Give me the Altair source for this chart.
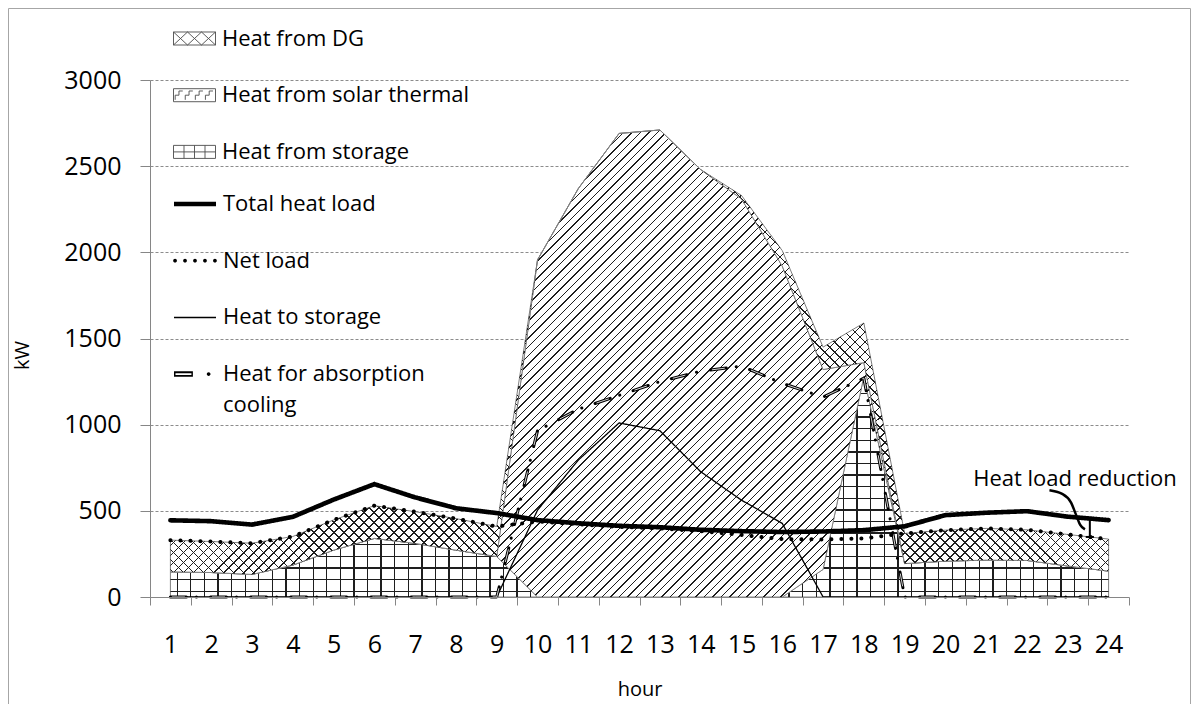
import math
import altair as alt
import pandas as pd

# ---------------- values ----------------
hours = list(range(1, 25))
x_tick_labels = [str(h) for h in hours]
y_tick_values = [0, 500, 1000, 1500, 2000, 2500, 3000]

heat_from_storage = [146, 142, 131, 185, 272, 340, 311, 272, 235, 0, 0, 0,
                     0, 0, 0, 0, 160, 1280, 194, 208, 214, 212, 180, 150]
heat_from_solar = [0, 0, 0, 0, 0, 0, 0, 0, 0, 1956, 2370, 2690,
                   2710, 2480, 2310, 1920, 1160, 80, 0, 0, 0, 0, 0, 0]
heat_from_dg = [184, 180, 181, 166, 175, 190, 184, 183, 174, 0, 0, 0,
                0, 0, 20, 90, 130, 230, 175, 180, 184, 178, 183, 186]
total_heat_load = [445, 440, 420, 465, 565, 655, 578, 515, 487, 446, 428, 413,
                   405, 390, 382, 377, 380, 388, 410, 475, 489, 498, 466, 446]
net_load = [330, 322, 312, 351, 447, 530, 495, 455, 409, 438, 422, 407,
            398, 382, 360, 336, 334, 340, 369, 388, 398, 390, 363, 336]
heat_to_storage = [0, 0, 0, 0, 0, 0, 0, 0, 0, 504, 795, 1010,
                   965, 727, 562, 427, 0, 0, 0, 0, 0, 0, 0, 0]
heat_for_absorption = [0, 0, 0, 0, 0, 0, 0, 0, 0, 965, 1090, 1170,
                       1250, 1310, 1340, 1240, 1160, 1270, 0, 0, 0, 0, 0, 0]

area_names = ["Heat  from DG", "Heat  from solar thermal", "Heat from storage"]
line_names = ["Total heat load", "Net load", "Heat to storage",
              "Heat for absorption cooling"]
annotation_text = "Heat load reduction"

# ---------------- layout / style ----------------
W, H = 979, 517
YMAX = 3000
FONT = "Open Sans"
AXIS_GRAY = "#868686"
OUTLINE = "#808080"
HATCH = "#1e1e1e"
CLEAR = "rgba(0,0,0,0)"
KPX = H / YMAX
HOUR_PX = W / 24

# ---------------- tables ----------------
areas = pd.DataFrame({"hour": hours, "storage": heat_from_storage,
                      "solar": heat_from_solar, "dg": heat_from_dg})

line_values = [total_heat_load, net_load, heat_to_storage, heat_for_absorption]
lines = pd.DataFrame([
    {"hour": h, "line_series": name, "value": v}
    for name, vals in zip(line_names, line_values)
    for h, v in zip(hours, vals)
])
area_key = pd.DataFrame({"hour": [1, 1, 1], "v": [0, 0, 0],
                         "area_series": area_names})
line_key = pd.DataFrame({"hour": [1, 1, 1, 1], "v": [0, 0, 0, 0],
                         "line_key": line_names})

# stacked bounds (used only to size the hatch gradients to each area's bbox)
s_lo = [0] * len(hours)
s_hi = heat_from_storage
o_lo = s_hi
o_hi = [a + b for a, b in zip(s_hi, heat_from_solar)]
d_lo = o_hi
d_hi = [a + b for a, b in zip(o_hi, heat_from_dg)]
BW = (max(hours) - min(hours)) * HOUR_PX


def bbox_h(lo, hi):
    return (max(hi) - min(lo)) * KPX


def stripe_stops(n, frac, color):
    stops = []
    for k in range(n):
        c = (k + 0.5) / n
        a = round(max(0.0, c - frac / 2), 5)
        b = round(min(1.0, c + frac / 2), 5)
        stops += [{"offset": a, "color": CLEAR}, {"offset": a, "color": color},
                  {"offset": b, "color": color}, {"offset": b, "color": CLEAR}]
    return stops


def vertical_lines(bw, spacing, thick):
    n = max(1, round(bw / spacing))
    return {"gradient": "linear", "x1": 0, "y1": 0, "x2": 1, "y2": 0,
            "stops": stripe_stops(n, thick / bw, HATCH)}


def horizontal_lines(bh, spacing, thick):
    n = max(1, round(bh / spacing))
    return {"gradient": "linear", "x1": 0, "y1": 0, "x2": 0, "y2": 1,
            "stops": stripe_stops(n, thick / bh, HATCH)}


def diagonal_lines(bw, bh, spacing, thick, rising=True):
    a = (bw + bh) / (bw + bh * bh / bw)
    span = bw + bh
    n = max(1, round(span / spacing))
    frac = thick * math.sqrt(2) / span
    if rising:
        x1, y1, x2, y2 = 0, 0, a, a * bh / bw
    else:
        x1, y1, x2, y2 = 0, 1, a, 1 - a * bh / bw
    return {"gradient": "linear", "x1": x1, "y1": y1, "x2": x2, "y2": y2,
            "stops": stripe_stops(n, frac, HATCH)}


h_st = bbox_h(s_lo, s_hi)
h_so = bbox_h(o_lo, o_hi)
h_dg = bbox_h(d_lo, d_hi)

# ---------------- scales / axes ----------------
x_scale = alt.Scale(domain=[0.5, 24.5], nice=False, zero=False)
y_scale = alt.Scale(domain=[0, YMAX], nice=False, zero=True)

x_axis = alt.Axis(
    values=[h - 0.5 for h in hours] + [hours[-1] + 0.5],
    labelExpr="datum.value < 24 ? format(datum.value + 0.5, 'd') : ''",
    labelOffset=HOUR_PX / 2, labelOverlap=False, labelFlush=False,
    grid=False, tickSize=8, tickColor=AXIS_GRAY, domainColor=AXIS_GRAY,
    labelFont=FONT, labelFontSize=25, labelColor="black", labelPadding=27,
    title="hour", titleFont=FONT, titleFontSize=20, titleFontWeight="normal",
    titleColor="black", titleY=92, titleBaseline="middle", zindex=1)

y_axis = alt.Axis(
    values=y_tick_values, format="d", grid=True, gridDash=[3, 2],
    gridColor="#8c8c8c", gridWidth=1, tickSize=10, tickColor=AXIS_GRAY,
    domainColor=AXIS_GRAY, labelFont=FONT, labelFontSize=25,
    labelColor="black", labelPadding=19, title="kW", titleFont=FONT,
    titleFontSize=20, titleFontWeight="normal", titleColor="black",
    titleX=-128, titleY=275, titleBaseline="middle")

X = alt.X("hour:Q", scale=x_scale, axis=x_axis)

area_base = alt.Chart(areas).transform_calculate(
    s_lo="0",
    s_hi="datum.storage",
    o_lo="datum.storage",
    o_hi="datum.storage + datum.solar",
    d_lo="datum.storage + datum.solar",
    d_hi="datum.storage + datum.solar + datum.dg",
)


def area_layer(lo, hi, **mark):
    return area_base.mark_area(**mark).encode(
        x=X, y=alt.Y(f"{hi}:Q", scale=y_scale, axis=y_axis),
        y2=alt.Y2(f"{lo}:Q"))


area_layers = [
    area_layer("s_lo", "s_hi", fill="white", stroke=OUTLINE, strokeWidth=1),
    area_layer("s_lo", "s_hi", fill=vertical_lines(BW, 13.5, 1.3)),
    area_layer("s_lo", "s_hi", fill=horizontal_lines(h_st, 11.5, 1.3)),
    area_layer("o_lo", "o_hi", fill="white", stroke=OUTLINE, strokeWidth=1),
    area_layer("o_lo", "o_hi", fill=diagonal_lines(BW, h_so, 8.5, 1.05, True)),
    area_layer("d_lo", "d_hi", fill="white", stroke=OUTLINE, strokeWidth=1),
    area_layer("d_lo", "d_hi", fill=diagonal_lines(BW, h_dg, 10, 1.0, True)),
    area_layer("d_lo", "d_hi", fill=diagonal_lines(BW, h_dg, 10, 1.0, False)),
]

# ---------------- legend swatches (unit-square symbol paths) ----------------
def swatch_rect():
    return "M-1,-0.31H1V0.31H-1Z"


def swatch_cross():
    p = swatch_rect()
    w = 2 / 3
    for i in range(3):
        x0 = -1 + i * w
        x1 = x0 + w
        p += f"M{x0:.3f},-0.31L{x1:.3f},0.31M{x0:.3f},0.31L{x1:.3f},-0.31"
    return p


def swatch_stairs():
    p = swatch_rect()
    for i in range(4):
        x0 = -0.92 + i * 0.48
        p += f"M{x0:.3f},0.22V0H{x0 + 0.18:.3f}V-0.2H{x0 + 0.36:.3f}"
    return p


def swatch_grid():
    p = swatch_rect()
    for xv in (-0.5, 0.0, 0.5):
        p += f"M{xv},-0.31V0.31"
    p += "M-1,0H1"
    return p


def dot(cx, r):
    return (f"M{cx - r:.3f},0A{r},{r} 0 1,0 {cx + r:.3f},0"
            f"A{r},{r} 0 1,0 {cx - r:.3f},0Z")


def swatch_thick():
    return "M-1,-0.11H1V0.11H-1Z"


def swatch_dots():
    return "".join(dot(c, 0.09) for c in (-0.95, -0.475, 0.0, 0.475, 0.95))


def swatch_thin():
    return "M-1,-0.035H1V0.035H-1Z"


def swatch_dashdot():
    outer = "M-1,-0.13H-0.1V0.13H-1Z"
    inner = "M-0.93,-0.045V0.045H-0.17V-0.045Z"
    return outer + inner + dot(0.65, 0.09)


legend_common = dict(title=None, orient="none", padding=0, rowPadding=23.7,
                     symbolSize=1764, labelFont=FONT, labelFontSize=22,
                     labelColor="black", labelOffset=6, labelLimit=400)

area_legend = alt.Legend(legendX=23, legendY=-63, symbolStrokeColor="black",
                         symbolStrokeWidth=0.9, **legend_common)
line_legend = alt.Legend(
    legendX=23, legendY=102,
    labelExpr=("datum.label == 'Heat for absorption cooling' ? "
               "['Heat for absorption', 'cooling'] : datum.label"),
    **legend_common)

area_key_layer = alt.Chart(area_key).transform_filter("false").mark_point(
    filled=False, color="black").encode(
    x=X, y=alt.Y("v:Q", scale=y_scale, axis=y_axis),
    shape=alt.Shape("area_series:N", legend=area_legend,
                    scale=alt.Scale(domain=area_names,
                                    range=[swatch_cross(), swatch_stairs(),
                                           swatch_grid()])))

line_key_layer = alt.Chart(line_key).transform_filter("false").mark_point(
    filled=True, color="black", opacity=1).encode(
    x=X, y=alt.Y("v:Q", scale=y_scale, axis=y_axis),
    shape=alt.Shape("line_key:N", legend=line_legend,
                    scale=alt.Scale(domain=line_names,
                                    range=[swatch_thick(), swatch_dots(),
                                           swatch_thin(), swatch_dashdot()])))

# per-series line styles: (stroke width, dash)
line_styles = {
    "Heat to storage": (1.3, [1, 0]),
    "Heat for absorption cooling": (3, [16, 10, 0.1, 14]),
    "Net load": (4, [0.1, 9.9]),
    "Total heat load": (4.6, [1, 0]),
}


def line_layer(name):
    w, d = line_styles[name]
    return alt.Chart(lines).transform_filter(
        alt.datum.line_series == name).mark_line(
        color="black", strokeWidth=w, strokeDash=d, strokeCap="round",
        strokeJoin="round").encode(
        x=X, y=alt.Y("value:Q", scale=y_scale, axis=y_axis))


hollow_layer = alt.Chart(lines).transform_filter(
    alt.datum.line_series == line_names[3]).mark_line(
    color="#d4d4d4", strokeWidth=1, strokeDash=[0, 1.5, 13, 25.6]).encode(
    x=X, y=alt.Y("value:Q", scale=y_scale, axis=y_axis))

line_layers = [line_layer("Heat to storage"),
               line_layer("Heat for absorption cooling"), hollow_layer,
               line_layer("Net load"), line_layer("Total heat load")]

# ---------------- annotation ----------------
BRACKET_H = 23.54
i23 = hours.index(23)
frac = BRACKET_H - 23
top_v = total_heat_load[i23] + frac * (total_heat_load[i23 + 1] - total_heat_load[i23])
bot_v = net_load[i23] + frac * (net_load[i23 + 1] - net_load[i23])

ann_text = alt.Chart(pd.DataFrame({"label": [annotation_text]})).mark_text(
    align="left", baseline="alphabetic", font=FONT, fontSize=22,
    color="black").encode(x=alt.datum(20.68), y=alt.datum(644),
                          text="label:N")

connector = alt.Chart(pd.DataFrame({
    "hour": [22.55, 22.85, 23.08, 23.2, 23.3, 23.42],
    "value": [620, 600, 548, 478, 420, 392]})).mark_line(
    color="black", strokeWidth=2.5, interpolate="monotone").encode(
    x=X, y=alt.Y("value:Q", scale=y_scale, axis=y_axis))

bracket_df = pd.DataFrame({"x": [BRACKET_H], "lo": [bot_v], "hi": [top_v],
                           "xl": [BRACKET_H - 0.1], "xr": [BRACKET_H + 0.1]})
bracket_v = alt.Chart(bracket_df).mark_rule(color="black", strokeWidth=2).encode(
    x=alt.X("x:Q", scale=x_scale, axis=x_axis),
    y=alt.Y("lo:Q", scale=y_scale, axis=y_axis), y2="hi:Q")
bracket_top = alt.Chart(bracket_df).mark_rule(color="black", strokeWidth=2).encode(
    x=alt.X("xl:Q", scale=x_scale, axis=x_axis), x2="xr:Q",
    y=alt.Y("hi:Q", scale=y_scale, axis=y_axis))
bracket_bot = alt.Chart(bracket_df).mark_rule(color="black", strokeWidth=2).encode(
    x=alt.X("xl:Q", scale=x_scale, axis=x_axis), x2="xr:Q",
    y=alt.Y("lo:Q", scale=y_scale, axis=y_axis))

# thin outer chart frame, as in the original figure
frame = alt.Chart(pd.DataFrame({"f": [0]})).mark_rect(
    fill="transparent", stroke="#a6a6a6", strokeWidth=1).encode(
    x=alt.value(-141.5), x2=alt.value(W + 61.5),
    y=alt.value(-71.5), y2=alt.value(H + 120))

chart = alt.layer(
    frame, *area_layers, *line_layers, area_key_layer, line_key_layer,
    connector, bracket_v, bracket_top, bracket_bot, ann_text,
).resolve_scale(shape="independent").properties(
    width=W, height=H,
    padding={"left": 142, "top": 72, "right": 62, "bottom": 107},
    autosize=alt.AutoSizeParams(type="none"),
).configure(
    font=FONT, style={"guide-label": {"lineHeight": 31}}
).configure_view(stroke=None)

chart.save("out.html", embed_options={"renderer": "svg", "actions": False})
